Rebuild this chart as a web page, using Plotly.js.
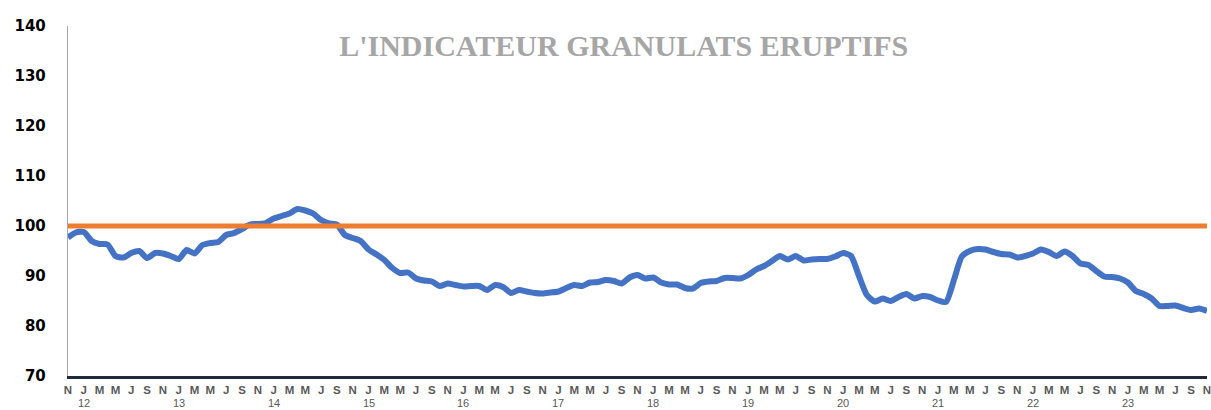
<!DOCTYPE html>
<html>
<head>
<meta charset="utf-8">
<script src="https://cdn.plot.ly/plotly-3.0.1.min.js"></script>
<style>html,body{margin:0;padding:0;background:#fff;}#chart{width:1211px;height:410px;}</style>
</head>
<body>
<div id="chart"></div>
<script>
// Monthly index values, Nov 2011 .. Nov 2023 (145 months)
var monthLetters = ["J","F","M","A","M","J","J","A","S","O","N","D"];
var startYear = 2011, startMonth = 10; // November 2011 (0-based month)
var indicatorValues = [
  97.7, 98.7, 98.8, 97.0, 96.4, 96.3, 94.0, 93.7, 94.6, 95.0, 93.6, 94.6,
  94.5, 94.0, 93.4, 95.2, 94.5, 96.2, 96.6, 96.8, 98.2, 98.6, 99.4, 100.3,
  100.4, 100.6, 101.5, 102.0, 102.5, 103.4, 103.1, 102.5, 101.2, 100.5, 100.3, 98.2,
  97.6, 97.0, 95.3, 94.3, 93.2, 91.6, 90.6, 90.7, 89.5, 89.1, 88.9, 88.0,
  88.5, 88.2, 87.9, 88.0, 88.0, 87.2, 88.2, 87.8, 86.6, 87.2, 86.9, 86.6,
  86.5, 86.7, 86.9, 87.6, 88.2, 88.0, 88.7, 88.8, 89.2, 89.0, 88.5, 89.7,
  90.2, 89.5, 89.7, 88.7, 88.3, 88.3, 87.6, 87.5, 88.6, 88.9, 89.0, 89.6,
  89.6, 89.5, 90.2, 91.3, 92.0, 93.0, 94.0, 93.3, 94.0, 93.1, 93.3, 93.4,
  93.4, 93.9, 94.6, 94.0, 90.0, 86.2, 84.9, 85.5, 85.0, 85.8, 86.4, 85.5,
  86.0, 85.8, 85.1, 84.8, 89.2, 93.9, 95.0, 95.4, 95.3, 94.8, 94.4, 94.3,
  93.7, 94.0, 94.5, 95.3, 94.8, 94.0, 94.9, 94.0, 92.5, 92.2, 91.0, 89.9,
  89.8, 89.5, 88.7, 87.0, 86.4, 85.5, 84.0, 84.0, 84.1, 83.6, 83.2, 83.5,
  83.0
];
var referenceLevel = 100;
var titleText = "L'INDICATEUR GRANULATS ERUPTIFS";

var xs = indicatorValues.map(function(v, i){ return i; });
var tickVals = [], tickText = [], yearAnnots = [];
for (var i = 0; i < indicatorValues.length; i += 2) {
  var m = (startMonth + i) % 12;
  var y = startYear + Math.floor((startMonth + i) / 12);
  tickVals.push(i); tickText.push("<b>" + monthLetters[m] + "</b>");
  if (m === 0) {
    yearAnnots.push({x: i, xref: "x", y: 0, yref: "paper", yanchor: "bottom", yshift: -34,
      borderpad: 0, text: String(y).slice(2), showarrow: false,
      font: {family: "Liberation Sans", size: 11, color: "#595959"}});
  }
}

var traces = [
  {x: xs, y: indicatorValues, type: "scatter", mode: "lines",
   line: {color: "#4472C4", width: 6, shape: "spline", smoothing: 0.6},
   hoverinfo: "skip", showlegend: false},
  {x: [xs[0], xs[xs.length-1]], y: [referenceLevel, referenceLevel], type: "scatter", mode: "lines",
   line: {color: "#ED7D31", width: 5}, hoverinfo: "skip", showlegend: false}
];

var layout = {
  width: 1211, height: 410,
  margin: {l: 68, r: 4, t: 26, b: 34},
  paper_bgcolor: "#fff", plot_bgcolor: "#fff",
  title: {text: "<b>" + titleText + "</b>", x: 0.515, xanchor: "center", y: 0.888, yanchor: "middle",
          font: {family: "Liberation Serif", size: 30, color: "#A6A6A6"}},
  annotations: yearAnnots,
  xaxis: {range: [0, 144], tickvals: tickVals, ticktext: tickText, showgrid: false, zeroline: false,
          showline: true, linecolor: "#1F2A3C", linewidth: 2.5, ticks: "", tickangle: 0,
          ticklabelstandoff: 2, ticklabeloverflow: "allow",
          tickfont: {family: "Liberation Sans", size: 11.5, color: "#595959"}, fixedrange: true},
  yaxis: {range: [70, 140], dtick: 10, tick0: 70, showgrid: false, zeroline: false,
          showline: true, linecolor: "#A6A6A6", linewidth: 1.2, ticks: "", ticklabelstandoff: 18,
          tickfont: {family: "DejaVu Sans", size: 15, color: "#000", weight: "bold"}, fixedrange: true}
};

Plotly.newPlot("chart", traces, layout, {displayModeBar: false, staticPlot: true});
</script>
</body>
</html>
